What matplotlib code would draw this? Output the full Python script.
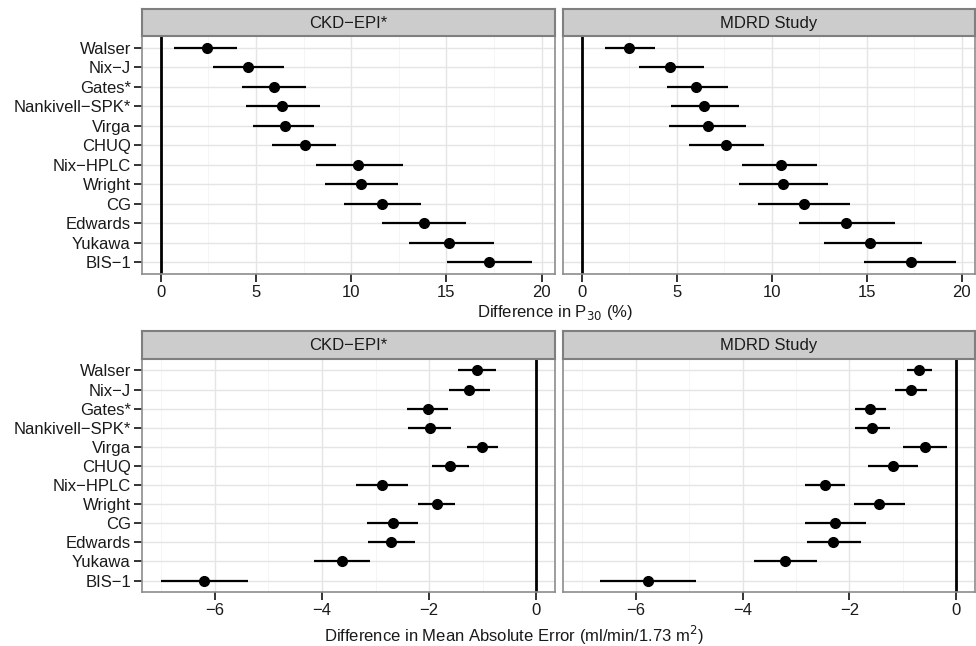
import numpy as np
import matplotlib
matplotlib.use("Agg")
import matplotlib.pyplot as plt
from matplotlib.ticker import MultipleLocator

plt.rcParams['font.family'] = ['Liberation Sans', 'DejaVu Sans']

methods = ["Walser", "Nix\u2212J", "Gates*", "Nankivell\u2212SPK*", "Virga", "CHUQ",
           "Nix\u2212HPLC", "Wright", "CG", "Edwards", "Yukawa", "BIS\u22121"]
panels = ["CKD\u2212EPI*", "MDRD Study"]

# difference in P30 (%)
p30_ckd = [2.42, 4.59, 5.94, 6.39, 6.54, 7.55, 10.37, 10.53, 11.60, 13.80, 15.16, 17.24]
p30_ckd_lo = [0.67, 2.72, 4.24, 4.50, 4.84, 5.83, 8.17, 8.64, 9.60, 11.60, 13.03, 15.03]
p30_ckd_hi = [4.01, 6.47, 7.65, 8.36, 8.06, 9.20, 12.71, 12.46, 13.66, 16.01, 17.51, 19.51]

p30_mdrd = [2.47, 4.63, 6.01, 6.43, 6.64, 7.62, 10.49, 10.59, 11.70, 13.93, 15.19, 17.33]
p30_mdrd_lo = [1.21, 3.02, 4.48, 4.70, 4.62, 5.65, 8.44, 8.30, 9.27, 11.42, 12.76, 14.88]
p30_mdrd_hi = [3.88, 6.43, 7.71, 8.27, 8.64, 9.58, 12.38, 12.97, 14.11, 16.47, 17.92, 19.70]

# difference in mean absolute error
mae_ckd = [-1.11, -1.25, -2.03, -1.99, -1.01, -1.61, -2.88, -1.85, -2.68, -2.72, -3.63, -6.20]
mae_ckd_lo = [-1.47, -1.63, -2.42, -2.40, -1.29, -1.95, -3.36, -2.20, -3.16, -3.15, -4.15, -7.01]
mae_ckd_hi = [-0.75, -0.87, -1.65, -1.59, -0.71, -1.25, -2.40, -1.51, -2.21, -2.27, -3.10, -5.38]

mae_mdrd = [-0.69, -0.84, -1.62, -1.58, -0.59, -1.19, -2.46, -1.44, -2.27, -2.30, -3.20, -5.77]
mae_mdrd_lo = [-0.92, -1.14, -1.90, -1.90, -0.99, -1.66, -2.83, -1.91, -2.84, -2.80, -3.79, -6.66]
mae_mdrd_hi = [-0.45, -0.54, -1.32, -1.25, -0.18, -0.71, -2.09, -0.96, -1.69, -1.78, -2.61, -4.87]

W, H = 976, 646
fig = plt.figure(figsize=(W / 100, H / 100), dpi=100)

def box(l, t, r, b):
    return [l / W, 1 - b / H, (r - l) / W, (b - t) / H]

grey50 = "#7f7f7f"
txt = "#1a1a1a"

def panel(rect, strip_rect, title, pt, lo, hi, xlim, major, minor, show_y):
    ax = fig.add_axes(rect)
    y = np.arange(len(methods))
    ax.set_ylim(len(methods) - 0.4, -0.6)
    ax.set_xlim(*xlim)
    ax.xaxis.set_major_locator(MultipleLocator(major))
    ax.xaxis.set_minor_locator(MultipleLocator(minor))
    ax.set_yticks(y)
    ax.grid(which="major", color="#e5e5e5", lw=1.0)
    ax.grid(which="minor", axis="x", color="#f4f4f4", lw=0.6)
    ax.set_axisbelow(True)
    ax.axvline(0, color="black", lw=2.0)
    ax.hlines(y, lo, hi, color="black", lw=1.6)
    ax.plot(pt, y, "o", color="black", ms=7)
    for s in ax.spines.values():
        s.set_color("#8c8c8c")
        s.set_linewidth(1.2)
    ax.tick_params(which="minor", length=0)
    ax.tick_params(which="major", length=5.5, width=1.4, color="#333333",
                   labelsize=12, labelcolor=txt, pad=2.5)
    if show_y:
        ax.set_yticklabels(methods)
    else:
        ax.tick_params(axis="y", length=0, labelleft=False)
    sax = fig.add_axes(strip_rect)
    sax.set_facecolor("#cccccc")
    sax.set_xticks([])
    sax.set_yticks([])
    for s in sax.spines.values():
        s.set_color(grey50)
        s.set_linewidth(1.5)
    sax.text(0.5, 0.47, title, ha="center", va="center", fontsize=12, color=txt,
             transform=sax.transAxes)
    return ax

xl_top = (-0.985, 20.7)
xl_bot = (-7.36, 0.35)

panel(box(142, 36, 555, 274), box(142, 9, 555, 36), panels[0],
      p30_ckd, p30_ckd_lo, p30_ckd_hi, xl_top, 5, 2.5, True)
panel(box(563, 36, 975, 274), box(563, 9, 975, 36), panels[1],
      p30_mdrd, p30_mdrd_lo, p30_mdrd_hi, xl_top, 5, 2.5, False)
panel(box(142, 359, 555, 592), box(142, 331, 555, 359), panels[0],
      mae_ckd, mae_ckd_lo, mae_ckd_hi, xl_bot, 2, 1, True)
panel(box(563, 359, 975, 592), box(563, 331, 975, 359), panels[1],
      mae_mdrd, mae_mdrd_lo, mae_mdrd_hi, xl_bot, 2, 1, False)

fig.text(555 / W, 1 - 312 / H, "Difference in P$_{30}$ (%)", ha="center", va="center",
         fontsize=12, color=txt)
fig.text(514 / W, 1 - 635 / H, "Difference in Mean Absolute Error (ml/min/1.73 m$^{2}$)",
         ha="center", va="center", fontsize=12, color=txt)

fig.savefig("out.png", dpi=100)
